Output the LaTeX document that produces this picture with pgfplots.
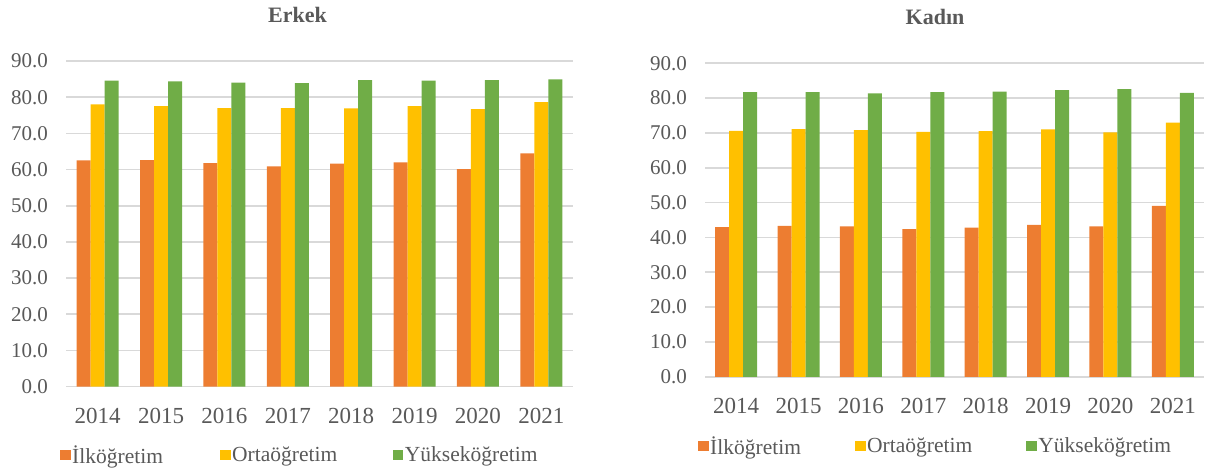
\documentclass[border=0pt]{standalone}
\usepackage{fontspec}
\setmainfont{Liberation Serif}
\usepackage{pgfplots}
\pgfplotsset{compat=1.18}
\definecolor{cOr}{HTML}{ED7D31}
\definecolor{cYe}{HTML}{FFC000}
\definecolor{cGr}{HTML}{70AD47}
\definecolor{cGrid}{HTML}{D9D9D9}
\definecolor{cTxt}{HTML}{595959}
\pgfplotsset{
 mystyle/.style={
  scale only axis, ybar=0pt, bar width=14pt,
  xmin=-0.5, xmax=7.5, ymin=0, ymax=90,
  xtick={0,1,2,3,4,5,6,7},
  xticklabels={2014,2015,2016,2017,2018,2019,2020,2021},
  ytick={0,10,20,30,40,50,60,70,80,90},
  yticklabel={\pgfmathprintnumber[fixed,fixed zerofill,precision=1,assume math mode=true]{\tick}},
  ymajorgrids, grid style={cGrid, line width=1.6pt},
  axis line style={draw=none}, major tick length=0pt, tick style={draw=none},
  xticklabel style={font=\fontsize{23}{23}\selectfont, text=cTxt, inner sep=0pt, anchor=north, yshift=-21pt},
  yticklabel style={font=\fontsize{21}{21}\selectfont, text=cTxt, inner sep=0pt, anchor=east, xshift=-18pt},
  legend columns=3,
  legend image code/.code={\fill[##1] (0pt,-5.35pt) rectangle (10.7pt,5.35pt);},
  legend style={draw=none, fill=none, inner sep=0pt, outer sep=0pt, anchor=west,
    font=\fontsize{21.5}{21.5}\selectfont, text=cTxt,
    nodes={inner xsep=1.5pt, inner ysep=0pt}},
 }
}
\begin{document}
\begin{tikzpicture}
\useasboundingbox (0,0) rectangle (1206pt,470pt);
% Erkek
\begin{axis}[mystyle, at={(66pt,83.4pt)}, anchor=south west, width=507pt, height=325.6pt,
  legend style={at={(axis description cs:-0.0118,-0.210)},
    /tikz/column 2/.style={column sep=55.5pt},
    /tikz/column 4/.style={column sep=54pt}}]
\addplot[fill=cOr, draw=none] coordinates {(0,62.5) (1,62.6) (2,61.8) (3,60.9) (4,61.6) (5,62.0) (6,60.1) (7,64.5)};
\addplot[fill=cYe, draw=none] coordinates {(0,78.0) (1,77.5) (2,77.0) (3,77.0) (4,76.9) (5,77.5) (6,76.7) (7,78.6)};
\addplot[fill=cGr, draw=none] coordinates {(0,84.6) (1,84.4) (2,84.0) (3,83.9) (4,84.7) (5,84.6) (6,84.7) (7,84.9)};
\legend{İlköğretim,Ortaöğretim,Yükseköğretim}
\end{axis}
% Kadın
\begin{axis}[mystyle, at={(705pt,93.2pt)}, anchor=south west, width=499pt, height=313.5pt,
  legend style={at={(axis description cs:-0.014,-0.2207)},
    /tikz/column 2/.style={column sep=52.5pt},
    /tikz/column 4/.style={column sep=52.5pt}}]
\addplot[fill=cOr, draw=none] coordinates {(0,43.0) (1,43.3) (2,43.2) (3,42.4) (4,42.8) (5,43.6) (6,43.2) (7,49.1)};
\addplot[fill=cYe, draw=none] coordinates {(0,70.6) (1,71.1) (2,70.8) (3,70.3) (4,70.5) (5,71.0) (6,70.2) (7,73.0)};
\addplot[fill=cGr, draw=none] coordinates {(0,81.7) (1,81.7) (2,81.4) (3,81.7) (4,81.9) (5,82.3) (6,82.6) (7,81.5)};
\legend{İlköğretim,Ortaöğretim,Yükseköğretim}
\end{axis}
\node[font=\bfseries\fontsize{22}{22}\selectfont, text=cTxt] at (297.5pt,455pt) {Erkek};
\node[font=\bfseries\fontsize{22}{22}\selectfont, text=cTxt] at (935pt,453.3pt) {Kadın};
\end{tikzpicture}
\end{document}
